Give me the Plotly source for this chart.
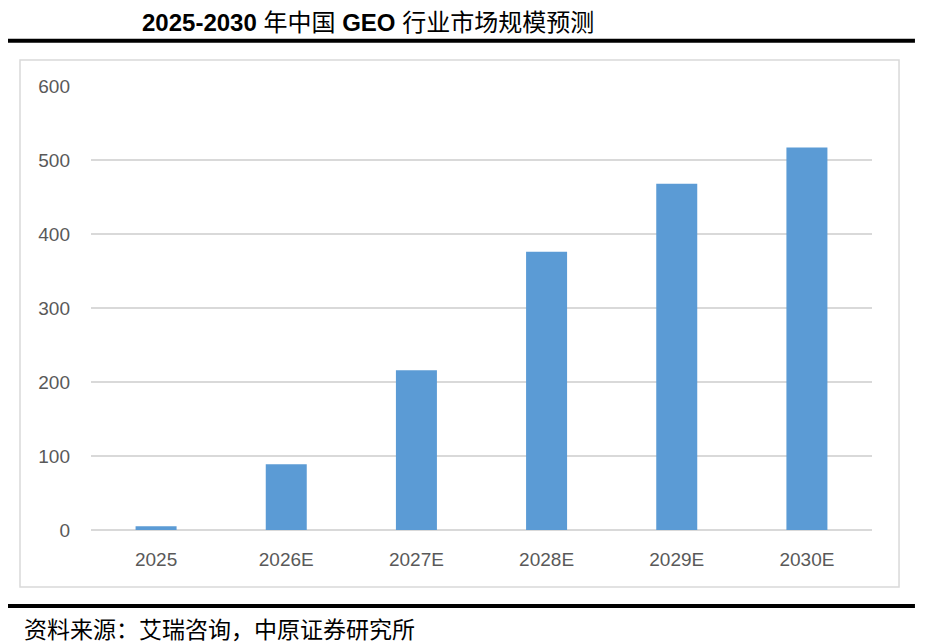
import plotly.graph_objects as go

# market size forecast
years = ["2025", "2026E", "2027E", "2028E", "2029E", "2030E"]
market_size = [5, 89, 216, 376, 468, 517]
y_ticks = [0, 100, 200, 300, 400, 500, 600]

title_text = "<b>2025-2030</b> 年中国 <b>GEO</b> 行业市场规模预测"
source_text = "资料来源：艾瑞咨询，中原证券研究所"

BAR_COLOR = "#5B9BD5"
GRID_COLOR = "#D9D9D9"
TICK_COLOR = "#595959"


def main():
    fig = go.Figure()
    fig.add_trace(go.Bar(x=years, y=market_size, marker_color=BAR_COLOR,
                         marker_line_width=0, hoverinfo="x+y"))

    # page body adds ~8px, so the figure is 8px smaller and shifted
    # plot area in the window: x 91..872 px, y 86..530 px
    fig.update_layout(
        width=937, height=636,
        margin=dict(l=83, r=73, t=78, b=114),
        paper_bgcolor="white", plot_bgcolor="white",
        bargap=0.685, showlegend=False,
        font=dict(family="Liberation Sans, Noto Sans CJK SC", color=TICK_COLOR, size=19),
    )
    fig.update_xaxes(showgrid=False, showline=False, ticks="",
                     ticklabelstandoff=16, tickfont=dict(size=19, color=TICK_COLOR))
    fig.update_yaxes(range=[0, 600], tickvals=y_ticks, showgrid=True,
                     gridcolor=GRID_COLOR, gridwidth=1.5, zeroline=True,
                     zerolinecolor=GRID_COLOR, zerolinewidth=1.5, showline=False,
                     ticks="", ticklabelstandoff=20,
                     tickfont=dict(size=19, color=TICK_COLOR))

    # outer chart box
    fig.add_shape(type="rect", xref="paper", yref="paper",
                  x0=-0.0909, x1=1.0346, y0=-0.1284, y1=1.0586,
                  line=dict(color=GRID_COLOR, width=1.5), layer="below")
    # thick rules above and below
    for yy in (1.1020, -0.1712):
        fig.add_shape(type="line", xref="paper", yref="paper",
                      x0=-0.1114, x1=1.055, y0=yy, y1=yy,
                      line=dict(color="black", width=4))

    # title box top sits at the figure's top edge
    fig.add_annotation(text=title_text, xref="paper", yref="paper",
                       x=0.3553, y=1.1757, showarrow=False, xanchor="center", yanchor="top",
                       borderpad=0,
                       font=dict(family="Liberation Sans, Noto Sans CJK SC",
                                 size=24, color="black"))
    fig.add_annotation(text=source_text, xref="paper", yref="paper",
                       x=-0.0883, y=-0.2207, showarrow=False, xanchor="left", yanchor="middle",
                       font=dict(family="Noto Sans CJK SC", size=23, color="black"))

    fig.write_html("out.html")


if __name__ == "__main__":
    main()
